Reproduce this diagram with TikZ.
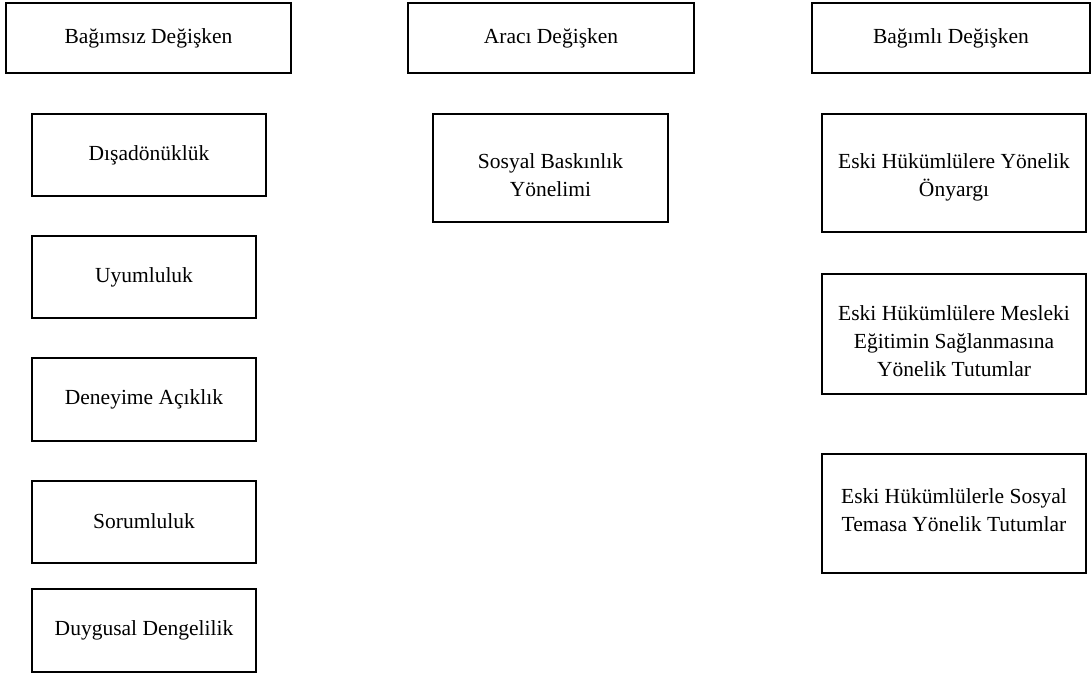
\documentclass[tikz,border=0pt]{standalone}
\usepackage{fontspec}
\setmainfont{Liberation Serif}
\begin{document}
\begin{tikzpicture}[x=1pt,y=-1pt,
  box/.style={draw=black,line width=1.6pt,inner sep=0pt},
  txt/.style={align=center,inner sep=0pt,font=\fontsize{21.5}{28}\selectfont}]
\useasboundingbox (0,0) rectangle (1092,675);
% headers
\node[box,minimum width=285pt,minimum height=70pt] (h1) at (148.5,38) {};
\node[txt] (h1t) at (148.5,38) {Bağımsız Değişken};
\node[box,minimum width=286pt,minimum height=70pt] (h2) at (551,38) {};
\node[txt] (h2t) at (551,38) {Aracı Değişken};
\node[box,minimum width=278pt,minimum height=70pt] (h3) at (951,38) {};
\node[txt] (h3t) at (951,38) {Bağımlı Değişken};
% independent
\node[box,minimum width=234pt,minimum height=82pt] (i1) at (149,155) {};
\node[txt] (i1t) at (149,155) {Dışadönüklük};
\node[box,minimum width=224pt,minimum height=82pt] (i2) at (144,277) {};
\node[txt] (i2t) at (144,277) {Uyumluluk};
\node[box,minimum width=224pt,minimum height=83pt] (i3) at (144,399.5) {};
\node[txt] (i3t) at (144,399.5) {Deneyime Açıklık};
\node[box,minimum width=224pt,minimum height=82pt] (i4) at (144,522) {};
\node[txt] (i4t) at (144,521) {Sorumluluk};
\node[box,minimum width=224pt,minimum height=83pt] (i5) at (144,630.5) {};
\node[txt] (i5t) at (144,630) {Duygusal Dengelilik};
% mediator
\node[box,minimum width=235pt,minimum height=108pt] (m1) at (550.5,168) {};
\node[txt] (m1t) at (550.5,175) {Sosyal Baskınlık\\Yönelimi};
% dependent
\node[box,minimum width=264pt,minimum height=118pt] (d1) at (954,173) {};
\node[txt] (d1t) at (954,177) {Eski Hükümlülere Yönelik\\Önyargı};
\node[box,minimum width=264pt,minimum height=120pt] (d2) at (954,334) {};
\node[txt] (d2t) at (954,341) {Eski Hükümlülere Mesleki\\Eğitimin Sağlanmasına\\Yönelik Tutumlar};
\node[box,minimum width=264pt,minimum height=119pt] (d3) at (954,513.5) {};
\node[txt] (d3t) at (954,510) {Eski Hükümlülerle Sosyal\\Temasa Yönelik Tutumlar};
\end{tikzpicture}
\end{document}
